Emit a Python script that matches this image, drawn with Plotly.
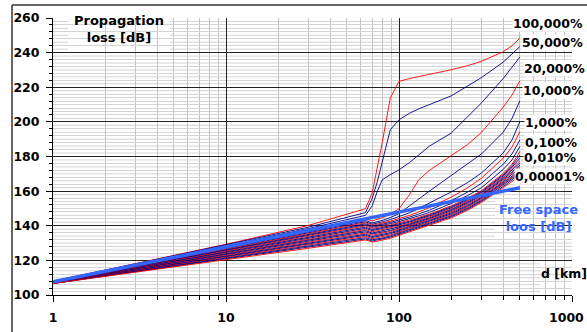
import plotly.graph_objects as go

# Distance grid shared by every time-percentage curve (km)
distance_km = [1, 10, 30, 64, 70, 75, 80, 89, 100, 115, 130, 150, 200, 250, 300, 400, 450, 500]

# Basic transmission loss (dB) not exceeded for the given percentage of time
loss_100 = [108.0, 129.3, 140.2, 149.8, 159.0, 173.0, 188.0, 213.7, 223.4, 225.0, 226.3, 227.5, 230.1, 232.5, 235.0, 240.5, 244.0, 248.3]
loss_50 = [107.9, 128.9, 139.2, 147.6, 155.8, 165.6, 176.8, 195.4, 201.2, 205.0, 207.5, 210.0, 215.0, 220.8, 225.6, 234.5, 239.0, 243.5]
loss_20 = [107.8, 128.5, 138.4, 146.0, 151.5, 160.0, 166.5, 169.5, 172.3, 176.5, 181.0, 186.0, 193.5, 203.0, 211.0, 225.0, 231.5, 237.5]
loss_10 = [107.7, 127.9, 137.3, 143.8, 142.8, 143.6, 144.6, 146.5, 149.8, 158.0, 166.5, 172.0, 180.5, 187.0, 194.0, 208.5, 215.5, 223.8]
loss_5 = [107.6, 127.4, 136.6, 143.0, 141.6, 142.3, 143.1, 144.7, 147.0, 151.5, 155.5, 160.0, 169.0, 176.0, 181.5, 194.0, 202.0, 212.2]
loss_2 = [107.5, 127.0, 136.0, 142.3, 140.9, 141.5, 142.2, 143.5, 145.2, 147.5, 150.0, 153.0, 159.5, 165.0, 170.5, 182.0, 189.5, 200.2]
loss_1 = [107.45, 126.6, 135.5, 141.7, 140.3, 140.8, 141.5, 142.6, 144.0, 146.0, 148.0, 150.5, 156.5, 162.0, 167.5, 179.0, 185.5, 194.4]
loss_0_5 = [107.4, 126.2, 135.0, 141.1, 139.7, 140.2, 140.9, 141.9, 143.2, 145.0, 146.8, 149.0, 154.5, 159.5, 164.5, 175.5, 181.5, 189.6]
loss_0_2 = [107.3, 125.8, 134.4, 140.5, 139.1, 139.6, 140.2, 141.2, 142.4, 144.0, 145.7, 147.7, 152.8, 157.5, 162.0, 172.5, 178.0, 185.8]
loss_0_1 = [107.2, 125.4, 133.8, 139.9, 138.5, 139.0, 139.6, 140.5, 141.7, 143.2, 144.8, 146.7, 151.5, 156.0, 160.3, 170.2, 175.5, 182.9]
loss_0_05 = [107.15, 124.9, 133.2, 139.2, 137.8, 138.4, 139.0, 139.9, 141.1, 142.6, 144.2, 146.2, 150.9, 155.4, 159.7, 169.5, 174.7, 180.8]
loss_0_02 = [107.1, 124.5, 132.6, 138.5, 137.2, 137.8, 138.3, 139.3, 140.5, 142.1, 143.7, 145.7, 150.3, 154.8, 159.2, 168.8, 173.8, 179.0]
loss_0_01 = [107.05, 124.0, 132.0, 137.8, 136.5, 137.1, 137.7, 138.6, 139.9, 141.5, 143.2, 145.2, 149.7, 154.3, 158.6, 168.1, 173.0, 177.5]
loss_0_005 = [107.0, 123.6, 131.5, 137.2, 135.8, 136.4, 137.0, 138.0, 139.3, 141.0, 142.6, 144.6, 149.2, 153.7, 158.0, 167.5, 172.2, 176.2]
loss_0_002 = [106.95, 123.2, 130.9, 136.5, 135.2, 135.8, 136.3, 137.3, 138.7, 140.4, 142.1, 144.1, 148.6, 153.1, 157.5, 166.8, 171.3, 175.0]
loss_0_001 = [106.9, 122.8, 130.4, 135.8, 134.5, 135.1, 135.6, 136.7, 138.1, 139.9, 141.5, 143.6, 148.0, 152.5, 156.9, 166.1, 170.5, 174.0]
loss_0_0005 = [106.85, 122.4, 129.8, 135.1, 133.8, 134.4, 135.0, 136.0, 137.5, 139.3, 141.0, 143.1, 147.4, 151.9, 156.3, 165.4, 169.7, 173.0]
loss_0_0002 = [106.8, 122.0, 129.3, 134.5, 133.2, 133.8, 134.3, 135.4, 136.9, 138.7, 140.5, 142.6, 146.8, 151.3, 155.8, 164.7, 168.8, 172.2]
loss_0_0001 = [106.75, 121.6, 128.7, 133.8, 132.5, 133.1, 133.6, 134.7, 136.3, 138.2, 139.9, 142.0, 146.3, 150.8, 155.2, 164.0, 168.0, 171.4]
loss_0_00005 = [106.7, 121.2, 128.1, 133.1, 131.9, 132.4, 132.9, 134.1, 135.7, 137.6, 139.4, 141.5, 145.7, 150.2, 154.6, 163.4, 167.2, 170.7]
loss_0_00002 = [106.65, 120.8, 127.6, 132.4, 131.2, 131.8, 132.3, 133.4, 135.1, 137.1, 138.9, 141.0, 145.1, 149.6, 154.1, 162.7, 166.3, 170.0]
loss_0_00001 = [106.6, 120.3, 127.0, 131.8, 130.6, 131.1, 131.6, 132.8, 134.5, 136.5, 138.3, 140.5, 144.5, 149.0, 153.5, 162.0, 165.5, 169.4]

# Free-space reference line
fs_distance_km = [1, 10, 100, 500]
fs_loss_db = [107.7, 127.9, 147.9, 161.9]

# Axis tick labels
x_tick_values = [1, 10, 100, 1000]
x_tick_labels = ["1", "10", "100", "1000"]

# Percentages with a printed label at the right-hand end
label_texts = ["100,000%", "50,000%", "20,000%", "10,000%", "1,000%", "0,100%", "0,010%", "0,00001%"]

RED = "#ff0000"
NAVY = "#000080"
FS_BLUE = "#3366ff"

curves = [
    ("100%", loss_100, RED), ("50%", loss_50, NAVY), ("20%", loss_20, NAVY),
    ("10%", loss_10, RED), ("5%", loss_5, NAVY), ("2%", loss_2, NAVY),
    ("1%", loss_1, RED), ("0.5%", loss_0_5, NAVY), ("0.2%", loss_0_2, NAVY),
    ("0.1%", loss_0_1, RED), ("0.05%", loss_0_05, NAVY), ("0.02%", loss_0_02, NAVY),
    ("0.01%", loss_0_01, RED), ("0.005%", loss_0_005, NAVY), ("0.002%", loss_0_002, NAVY),
    ("0.001%", loss_0_001, RED), ("0.0005%", loss_0_0005, NAVY), ("0.0002%", loss_0_0002, NAVY),
    ("0.0001%", loss_0_0001, RED), ("0.00005%", loss_0_00005, NAVY), ("0.00002%", loss_0_00002, NAVY),
    ("0.00001%", loss_0_00001, RED),
]

# Figure geometry (pixels)
FIG_W, FIG_H = 587, 332
M_L, M_R, M_T, M_B = 53, 15, 18, 37
PW = FIG_W - M_L - M_R
PH = FIG_H - M_T - M_B


def px(x):
    return (x - M_L) / PW


def py(y):
    return (FIG_H - M_B - y) / PH


FONT = "DejaVu Sans"
BOLD = dict(family=FONT, size=12.5, color="black", weight="bold")

fig = go.Figure()
for name, values, color in curves:
    fig.add_trace(go.Scatter(
        x=distance_km, y=values, mode="lines", name=name,
        line=dict(color=color, width=0.9), showlegend=False, hoverinfo="skip",
    ))

fig.add_trace(go.Scatter(
    x=fs_distance_km, y=fs_loss_db, mode="lines", name="Free space",
    line=dict(color=FS_BLUE, width=3.5), showlegend=False, hoverinfo="skip",
))

# Extra 2 dB horizontal grid lines between the 4 dB minor lines
shapes = []
for v in range(102, 260, 4):
    shapes.append(dict(type="line", xref="paper", yref="y", x0=0, x1=1, y0=v, y1=v,
                       line=dict(color="#d4d4d4", width=1), layer="below"))

# White boxes behind the text blocks
for x0, x1, y0, y1 in [(68, 170, 8, 54), (540, 587, 262, 292), (495, 571, 197, 238)]:
    shapes.append(dict(type="rect", xref="paper", yref="paper",
                       x0=px(x0), x1=px(x1), y0=py(y1), y1=py(y0),
                       fillcolor="white", line=dict(width=0), layer="between"))

# Outer frame (left and top edges)
shapes.append(dict(type="line", xref="paper", yref="paper", x0=px(12), x1=px(12),
                   y0=py(FIG_H + 5), y1=py(5), line=dict(color="#333333", width=1.5)))
shapes.append(dict(type="line", xref="paper", yref="paper", x0=px(12), x1=px(FIG_W + 5),
                   y0=py(5), y1=py(5), line=dict(color="#333333", width=1.5)))

annotations = []
label_pos = [(548, 24), (552, 43), (554, 69), (553, 91), (551, 123), (551, 142), (550, 157), (550, 177)]
for text, (lx, ly) in zip(label_texts, label_pos):
    annotations.append(dict(text=text, xref="paper", yref="paper", x=px(lx), y=py(ly),
                            xanchor="center", yanchor="middle", showarrow=False,
                            bgcolor="white", borderpad=0, font=BOLD))

annotations.append(dict(text="Propagation<br>loss [dB]", xref="paper", yref="paper",
                        x=px(119), y=py(29), xanchor="center", yanchor="middle", showarrow=False,
                        font=dict(BOLD, size=13)))
annotations.append(dict(text="d [km]", xref="paper", yref="paper",
                        x=px(564), y=py(273), xanchor="center", yanchor="middle", showarrow=False,
                        font=BOLD))
annotations.append(dict(text="Free space<br>loos [dB]", xref="paper", yref="paper",
                        x=px(538), y=py(218), xanchor="center", yanchor="middle", showarrow=False,
                        font=dict(BOLD, size=13, color=FS_BLUE)))
# Last decade label, kept inside the right edge of the figure
annotations.append(dict(text=x_tick_labels[-1], xref="x", yref="paper",
                        x=3, y=py(317), xanchor="right", yanchor="middle", xshift=14,
                        showarrow=False, font=BOLD))

fig.update_layout(
    width=FIG_W, height=FIG_H,
    margin=dict(l=M_L, r=M_R, t=M_T, b=M_B, pad=0, autoexpand=False),
    paper_bgcolor="white", plot_bgcolor="white",
    shapes=shapes, annotations=annotations,
    font=BOLD,
)

fig.update_xaxes(
    type="log", range=[0, 3], automargin=False,
    tickvals=x_tick_values, ticktext=x_tick_labels[:-1] + [""],
    showgrid=True, gridcolor="#222222", gridwidth=1,
    ticks="outside", ticklen=6, tickcolor="black",
    showline=True, linecolor="black", linewidth=1, zeroline=False,
    minor=dict(dtick="D1", showgrid=True, gridcolor="#c4c4c4",
               ticks="outside", ticklen=4, tickcolor="black"),
    tickfont=BOLD,
    ticklabelstandoff=5,
)
fig.update_yaxes(
    range=[100, 260], tick0=100, dtick=20, automargin=False,
    showgrid=True, gridcolor="#222222", gridwidth=1,
    ticks="outside", ticklen=6, tickcolor="black",
    showline=True, linecolor="black", linewidth=1, zeroline=False,
    minor=dict(tick0=100, dtick=4, showgrid=True, gridcolor="#d4d4d4",
               ticks="outside", ticklen=3, tickcolor="black"),
    tickfont=BOLD,
    ticklabelstandoff=4,
)

fig.write_html("out.html")
